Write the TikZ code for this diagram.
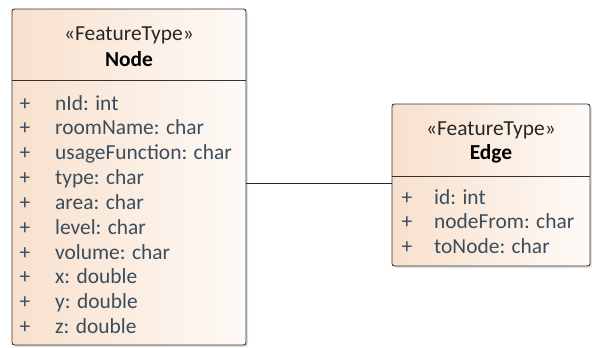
\documentclass[tikz,border=0pt]{standalone}
\usepackage{fontspec}
\setmainfont{Carlito}
\usetikzlibrary{shadows}

\definecolor{peach}{HTML}{F8E0CC}
\definecolor{paper}{HTML}{FEFAF7}
\definecolor{slate}{HTML}{3B4C5C}

\begin{document}
\begin{tikzpicture}[x=1bp,y=-1bp,
    classbox/.style={draw=black!80, line width=0.9bp, rounded corners=2.5bp,
      left color=peach, right color=paper,
      drop shadow={shadow xshift=2bp, shadow yshift=-2bp, opacity=0.25}},
    stereo/.style={anchor=base, inner sep=0, font=\fontsize{21.5}{24}\selectfont, text=black!85},
    title/.style={anchor=base, inner sep=0, font=\fontsize{21.5}{24}\selectfont\bfseries},
    attr/.style={anchor=base west, inner sep=0, font=\fontsize{21.5}{24}\selectfont, text=slate},
    plus/.style={anchor=base, inner sep=0, font=\fontsize{21.5}{24}\selectfont, text=slate}]
  \useasboundingbox (0,0) rectangle (592,347);
  % class Node
  \node[classbox, minimum width=234bp, minimum height=336bp] (node) at (129,177) {};
  \draw[black!80, line width=0.9bp] (12,80) -- (246,80);
  \node[stereo] (nodestereo) at (129,40) {«FeatureType»};
  \node[title] (nodetitle) at (129,66) {Node};
  \foreach \attr [count=\i] in {nId: int, roomName: char, usageFunction: char,
      type: char, area: char, level: char, volume: char, x: double, y: double, z: double} {
    \node[plus] (np\i) at (25,{110+24.85*(\i-1)}) {+};
    \node[attr] (na\i) at (55,{110+24.85*(\i-1)}) {\attr};
  }
  % class Edge
  \node[classbox, minimum width=198bp, minimum height=162bp] (edge) at (491,185) {};
  \draw[black!80, line width=0.9bp] (392,176) -- (590,176);
  \node[stereo] (edgestereo) at (491,135) {«FeatureType»};
  \node[title] (edgetitle) at (491,159) {Edge};
  \foreach \attr [count=\i] in {id: int, nodeFrom: char, toNode: char} {
    \node[plus] (ep\i) at (407,{204+24.85*(\i-1)}) {+};
    \node[attr] (ea\i) at (434,{204+24.85*(\i-1)}) {\attr};
  }
  % association
  \draw[black!85, line width=0.9bp] (node.east |- 0,183) -- (edge.west |- 0,183);
\end{tikzpicture}
\end{document}
